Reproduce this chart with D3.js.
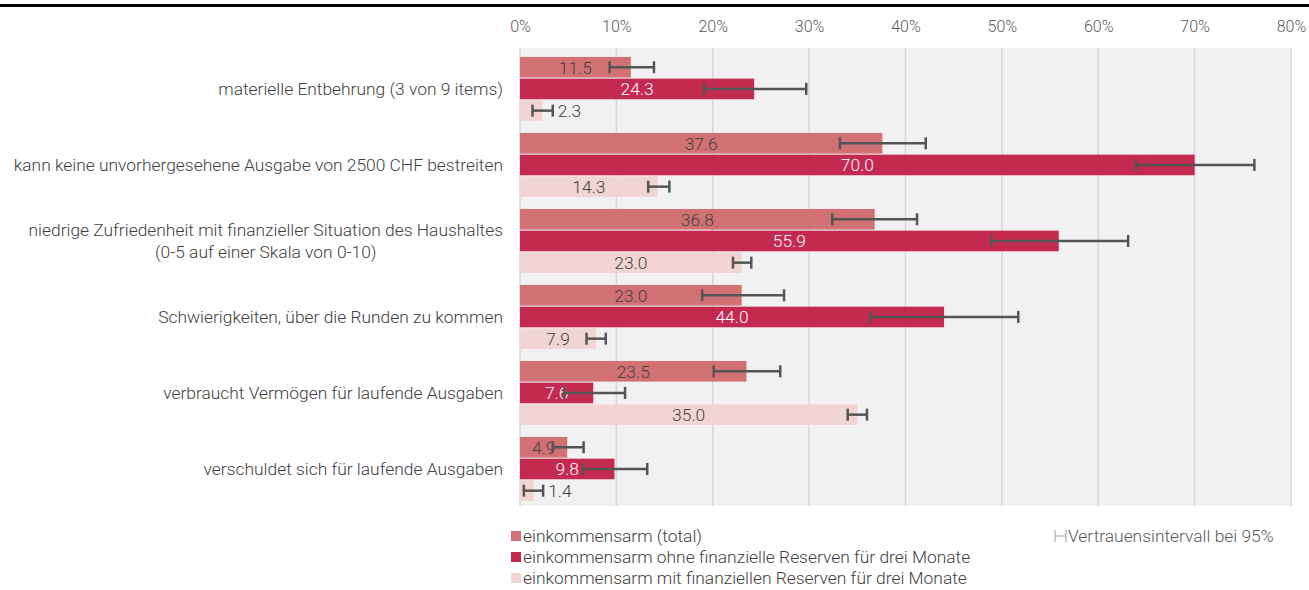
<!DOCTYPE html>
<html>
<head>
<meta charset="utf-8">
<script src="https://cdn.jsdelivr.net/npm/d3@7"></script>
<style>
  body { margin: 0; background: #fff; }
  svg { display: block; font-family: Roboto, "Noto Sans", sans-serif; font-weight: 300; }
</style>
</head>
<body>
<figure id="bar" style="margin:0"></figure>
<script>
// categories (two-line label split with \n)
const categories = [
  "materielle Entbehrung (3 von 9 items)",
  "kann keine unvorhergesehene Ausgabe von 2500 CHF bestreiten",
  "niedrige Zufriedenheit mit finanzieller Situation des Haushaltes\n(0-5 auf einer Skala von 0-10)",
  "Schwierigkeiten, über die Runden zu kommen",
  "verbraucht Vermögen für laufende Ausgaben",
  "verschuldet sich für laufende Ausgaben"
];
const seriesNames = [
  "einkommensarm (total)",
  "einkommensarm ohne finanzielle Reserven für drei Monate",
  "einkommensarm mit finanziellen Reserven für drei Monate"
];
const totalValues = [11.5, 37.6, 36.8, 23.0, 23.5, 4.9];
const ohneValues  = [24.3, 70.0, 55.9, 44.0, 7.6, 9.8];
const mitValues   = [2.3, 14.3, 23.0, 7.9, 35.0, 1.4];
// 95% confidence intervals
const totalLow  = [9.3, 33.2, 32.4, 18.9, 20.1, 3.4];
const totalHigh = [13.9, 42.1, 41.2, 27.4, 27.0, 6.6];
const ohneLow   = [19.1, 63.9, 48.9, 36.4, 4.6, 6.5];
const ohneHigh  = [29.7, 76.2, 63.1, 51.7, 10.9, 13.2];
const mitLow    = [1.3, 13.3, 22.1, 6.9, 34.0, 0.4];
const mitHigh   = [3.4, 15.5, 24.0, 8.9, 36.0, 2.4];
const xTicks = [0, 10, 20, 30, 40, 50, 60, 70, 80];
const ciLabel = "Vertrauensintervall bei 95%";

const colors = ["#d27174", "#c4294f", "#f2d5d3"];
const labelColors = ["#404040", "#ffffff", "#404040"];

const W = 1309, H = 590;
const plotLeft = 520, plotRight = 1291, plotTop = 48, plotBottom = 506;
const textSize = "17.4px";

const svg = d3.select("figure#bar").append("svg")
  .attr("width", W).attr("height", H);

// top rule
svg.append("rect").attr("x", 0).attr("y", 4).attr("width", W).attr("height", 3).attr("fill", "#000");

const x = d3.scaleLinear().domain([0, 80]).range([plotLeft, plotRight]);
const y = d3.scaleBand().domain(categories).range([plotTop, plotBottom])
  .paddingInner(0.158).paddingOuter(0.092).align(0.64);
const ySub = d3.scaleBand().domain([0, 1, 2]).range([0, y.bandwidth()]).paddingInner(0.05);

// plot background + grid
svg.append("rect").attr("x", plotLeft).attr("y", plotTop)
  .attr("width", plotRight - plotLeft).attr("height", plotBottom - plotTop)
  .attr("fill", "#f1f1f1");
svg.append("g").selectAll("line").data(xTicks).enter().append("line")
  .attr("x1", d => x(d)).attr("x2", d => x(d))
  .attr("y1", plotTop).attr("y2", plotBottom)
  .attr("stroke", "#d6d6d6").attr("stroke-width", 1.5);

// top axis
const axis = svg.append("g").attr("transform", "translate(0," + plotTop + ")")
  .call(d3.axisTop(x).tickValues(xTicks).tickSize(0).tickPadding(16).tickFormat(d => d + "%"));
axis.select(".domain").remove();
axis.selectAll("text").attr("fill", "#595959").style("font-size", "16px")
  .style("font-family", "Roboto, sans-serif").style("font-weight", 300);

// flatten data
const values = [totalValues, ohneValues, mitValues];
const lows = [totalLow, ohneLow, mitLow];
const highs = [totalHigh, ohneHigh, mitHigh];
const rows = [];
categories.forEach((c, i) => {
  for (let s = 0; s < 3; s++) {
    rows.push({ cat: c, s: s, v: values[s][i], lo: lows[s][i], hi: highs[s][i] });
  }
});
const by = d => y(d.cat) + ySub(d.s);
const small = d => (x(d.v) - x(0)) < 30;

// bars
svg.append("g").selectAll("rect").data(rows).enter().append("rect")
  .attr("x", x(0)).attr("y", by)
  .attr("width", d => x(d.v) - x(0)).attr("height", ySub.bandwidth())
  .attr("fill", d => colors[d.s]);

// value labels
svg.append("g").selectAll("text").data(rows).enter().append("text")
  .attr("x", d => small(d) ? x(d.hi) + 5 : (x(0) + x(d.v)) / 2)
  .attr("y", d => by(d) + ySub.bandwidth() / 2)
  .attr("dy", "0.36em")
  .attr("text-anchor", d => small(d) ? "start" : "middle")
  .attr("fill", d => labelColors[d.s])
  .style("font-size", textSize)
  .text(d => d.v.toFixed(1));

// error bars
const eb = svg.append("g").attr("stroke", "#555").attr("stroke-width", 2.5).attr("fill", "none");
rows.forEach(d => {
  const cy = by(d) + ySub.bandwidth() / 2;
  eb.append("line").attr("x1", x(d.lo)).attr("x2", x(d.hi)).attr("y1", cy).attr("y2", cy);
  eb.append("line").attr("x1", x(d.lo)).attr("x2", x(d.lo)).attr("y1", cy - 6).attr("y2", cy + 6);
  eb.append("line").attr("x1", x(d.hi)).attr("x2", x(d.hi)).attr("y1", cy - 6).attr("y2", cy + 6);
});

// category labels
const catG = svg.append("g").attr("fill", "#404040").style("font-size", textSize);
categories.forEach(c => {
  const lines = c.split("\n");
  const cy = y(c) + y.bandwidth() / 2;
  const lh = 22;
  const t = catG.append("text").attr("text-anchor", "end");
  if (lines.length === 1) {
    t.attr("x", 503).attr("y", cy).attr("dy", "0.36em").text(c);
  } else {
    t.text(lines[0]);
    const w = t.node().getComputedTextLength();
    const mid = 503 - w / 2;
    t.remove();
    lines.forEach((ln, k) => {
      catG.append("text").attr("text-anchor", "middle")
        .attr("x", mid).attr("y", cy + (k - (lines.length - 1) / 2) * lh)
        .attr("dy", "0.36em").text(ln);
    });
  }
});

// legend
const legendY = [536, 557, 578];
const lg = svg.append("g");
seriesNames.forEach((n, i) => {
  lg.append("rect").attr("x", 511).attr("y", legendY[i] - 5).attr("width", 10).attr("height", 10)
    .attr("fill", colors[i]);
  lg.append("text").attr("x", 523).attr("y", legendY[i]).attr("dy", "0.36em")
    .attr("fill", "#404040").style("font-size", textSize).text(n);
});
const ci = svg.append("g").attr("stroke", "#bdbdbd").attr("stroke-width", 1.5);
ci.append("line").attr("x1", 1055).attr("x2", 1055).attr("y1", 530).attr("y2", 542);
ci.append("line").attr("x1", 1066).attr("x2", 1066).attr("y1", 530).attr("y2", 542);
ci.append("line").attr("x1", 1055).attr("x2", 1066).attr("y1", 536).attr("y2", 536);
svg.append("text").attr("x", 1068).attr("y", 536).attr("dy", "0.36em")
  .attr("fill", "#595959").style("font-size", textSize).text(ciLabel);
</script>
</body>
</html>
